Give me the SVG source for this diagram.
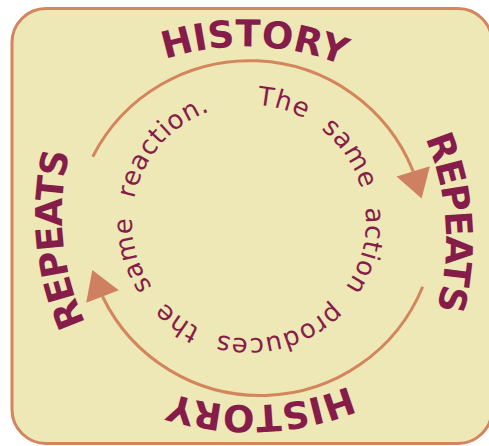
<svg xmlns="http://www.w3.org/2000/svg" width="489" height="446" viewBox="0 0 489 446">
<style>
.bg{fill:#EEE7B6;stroke:#D2855F;stroke-width:3}
.arc{fill:none;stroke:#D3865D;stroke-width:3;stroke-linecap:butt}
.head{fill:#CF8060}
.big{font-family:"DejaVu Sans","Liberation Sans",sans-serif;font-weight:bold;font-size:37px;fill:#861C4A}
.rep{letter-spacing:-1.5px}
.small{font-family:"DejaVu Sans","Liberation Sans",sans-serif;font-size:26px;fill:#861C4A;letter-spacing:0.8px;word-spacing:9.5px}
</style>
<defs>
<path id="pTop" d="M20.3,176.5 A260,260 0 0 1 470.7,176.5"/>
<path id="pBot" d="M475.2,275.5 A260,260 0 0 1 24.8,275.5"/>
<path id="pRight" d="M316,14.8 A260,260 0 0 1 316,465.2"/>
<path id="pLeft" d="M192,440.2 A260,260 0 0 1 192,-10.2"/>
<path id="pIn" d="M249,104.5 A117,117 0 1 1 249,338.5 A117,117 0 1 1 249,104.5"/>
</defs>
<rect class="bg" x="12" y="8.5" width="480" height="435" rx="34"/>
<g id="connectors">
<path class="arc" d="M92.7,156.7 A176.2,176.2 0 0 1 413.2,171.4"/>
<polygon class="head" points="421.6,198.5 429.9,166.2 396.5,176.6"/>
<path class="arc" d="M422.7,286.7 A175.4,175.4 0 0 1 102.5,296.5"/>
<polygon class="head" points="92.3,270 118.8,290.2 86.2,302.8"/>
</g>
<g id="history-top"><text class="big" text-anchor="middle"><textPath href="#pTop" startOffset="281.3">HISTORY</textPath></text></g>
<g id="repeats-right"><text class="big rep" text-anchor="middle"><textPath href="#pRight" startOffset="254.3">REPEATS</textPath></text></g>
<g id="history-bottom"><text class="big" text-anchor="middle"><textPath href="#pBot" startOffset="261.3">HISTORY</textPath></text></g>
<g id="repeats-left"><text class="big rep" text-anchor="middle"><textPath href="#pLeft" startOffset="247.3">REPEATS</textPath></text></g>
<g id="inner-text"><text class="small"><textPath href="#pIn" startOffset="8">The same action produces the same reaction.</textPath></text></g>
</svg>
